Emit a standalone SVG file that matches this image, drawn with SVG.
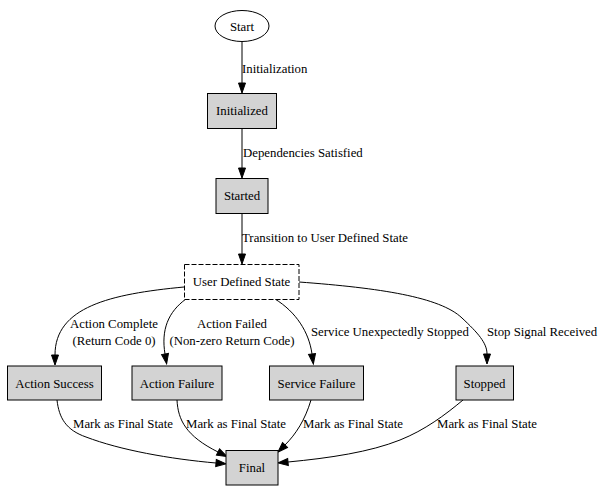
<svg xmlns="http://www.w3.org/2000/svg" width="600" height="487" viewBox="0 0 600 487">
  <style>
    .node { fill: #d3d3d3; stroke: #000; stroke-width: 1; }
    .plain { fill: #fff; stroke: #000; stroke-width: 1; }
    .dashed { fill: #fff; stroke: #000; stroke-width: 1; stroke-dasharray: 5,2; }
    .edge { fill: none; stroke: #000; stroke-width: 1; marker-end: url(#arrow); }
    .c { text-anchor: middle; }
  </style>
  <defs>
    <marker id="arrow" markerWidth="10" markerHeight="8" refX="0" refY="3.5" orient="auto" markerUnits="userSpaceOnUse" overflow="visible">
      <path d="M0,0 L10,3.5 L0,7 Z" fill="#000" stroke="#000" stroke-width="1"/>
    </marker>
  </defs>
  <rect width="600" height="487" fill="#fff"/>

  <g font-family="'Liberation Serif', 'Times New Roman', Times, serif" font-size="12.8" fill="#000">
  <!-- connectors -->
  <g id="edges">
    <path class="edge" d="M242,42 L242,83"/>
    <text x="242" y="73">Initialization</text>

    <path class="edge" d="M242,128 L242,168"/>
    <text x="243" y="157">Dependencies Satisfied</text>

    <path class="edge" d="M242,213 L242,254"/>
    <text x="242" y="242">Transition to User Defined State</text>

    <path class="edge" d="M184,287 C110,294 55,307 55,355"/>
    <text class="c" x="114" y="328">Action Complete</text>
    <text class="c" x="114" y="345">(Return Code 0)</text>

    <path class="edge" d="M186,299 C168,312 161,330 165,354"/>
    <text class="c" x="232" y="328">Action Failed</text>
    <text class="c" x="232" y="345">(Non-zero Return Code)</text>

    <path class="edge" d="M275,299 C296,312 309,332 312,354"/>
    <text x="311" y="336">Service Unexpectedly Stopped</text>

    <path class="edge" d="M299,282 C380,288 440,297 462,318 C478,333 487,343 487,354"/>
    <text x="487" y="336">Stop Signal Received</text>

    <path class="edge" d="M57,400 C59,418 66,430 86,437 C120,450 170,459 216,463"/>
    <text x="73" y="428">Mark as Final State</text>

    <path class="edge" d="M177,400 C178,420 186,436 218,452"/>
    <text x="186" y="428">Mark as Final State</text>

    <path class="edge" d="M311,400 C305,420 296,434 285,445"/>
    <text x="303" y="428">Mark as Final State</text>

    <path class="edge" d="M463,400 C445,415 425,430 400,440 C370,452 330,458 288,462"/>
    <text x="437" y="428">Mark as Final State</text>
  </g>

  <!-- nodes -->
  <g id="start">
    <ellipse class="plain" cx="242" cy="26" rx="27" ry="15.5"/>
    <text class="c" x="242" y="30.5">Start</text>
  </g>
  <g id="initialized">
    <rect class="node" x="207.5" y="93.5" width="69" height="35"/>
    <text class="c" x="242" y="115">Initialized</text>
  </g>
  <g id="started">
    <rect class="node" x="216" y="178.5" width="52" height="35"/>
    <text class="c" x="242" y="200">Started</text>
  </g>
  <g id="user_defined_state">
    <rect class="dashed" x="184.5" y="264.5" width="114.5" height="35"/>
    <text class="c" x="241.5" y="286">User Defined State</text>
  </g>
  <g id="action_success">
    <rect class="node" x="7.5" y="366" width="94" height="34"/>
    <text class="c" x="54.5" y="387.5">Action Success</text>
  </g>
  <g id="action_failure">
    <rect class="node" x="132" y="366" width="90" height="34"/>
    <text class="c" x="177" y="387.5">Action Failure</text>
  </g>
  <g id="service_failure">
    <rect class="node" x="269.5" y="366" width="94" height="34"/>
    <text class="c" x="316.5" y="387.5">Service Failure</text>
  </g>
  <g id="stopped">
    <rect class="node" x="456" y="366" width="57.5" height="34"/>
    <text class="c" x="484.5" y="387.5">Stopped</text>
  </g>
  <g id="final">
    <rect class="node" x="226" y="450.5" width="52" height="34.5"/>
    <text class="c" x="252" y="472">Final</text>
  </g>
  </g>
</svg>
